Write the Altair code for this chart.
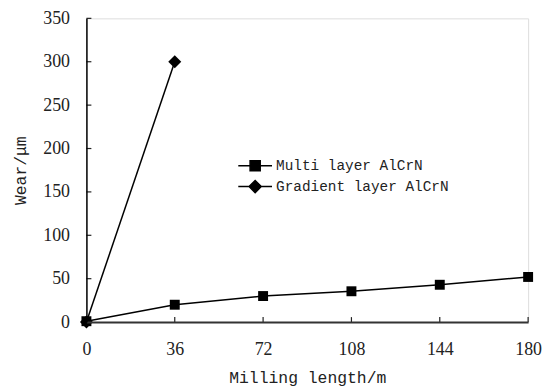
import altair as alt
import pandas as pd

series_names = ["Multi layer AlCrN", "Gradient layer AlCrN"]
multi_x = [0, 36, 72, 108, 144, 180]
multi_y = [1, 20, 30, 35.5, 43, 52]
grad_x = [0, 36]
grad_y = [0, 300]
x_ticks = [0, 36, 72, 108, 144, 180]
y_ticks = [0, 50, 100, 150, 200, 250, 300, 350]

df = pd.DataFrame(
    {"x": multi_x + grad_x,
     "y": multi_y + grad_y,
     "series": [series_names[0]] * len(multi_x) + [series_names[1]] * len(grad_x)}
)
xt_df = pd.DataFrame({"x": x_ticks})
yt_df = pd.DataFrame({"y": y_ticks})

LABEL_FONT = "Liberation Serif"
MONO = "Liberation Mono"
W, H = 445, 306

xs = alt.Scale(domain=[0, 180], nice=False, zero=False)
ys = alt.Scale(domain=[0, 350], nice=False)

x_axis = alt.Axis(values=x_ticks, title="Milling length/m", grid=False,
                  ticks=False, labelPadding=19, labelFlush=False,
                  labelFont=LABEL_FONT, labelFontSize=18, labelColor="#222",
                  titleFont=MONO, titleFontSize=16.5, titleFontWeight="normal",
                  titleColor="#222", titlePadding=11,
                  domainColor="#333", domainWidth=2, zindex=1)
y_axis = alt.Axis(values=y_ticks, title="Wear/μm", grid=False,
                  ticks=False, labelPadding=17, labelFlush=False,
                  labelFont=LABEL_FONT, labelFontSize=18, labelColor="#222",
                  titleFont=MONO, titleFontSize=16.5, titleFontWeight="normal",
                  titleColor="#222", titlePadding=14,
                  domainColor="#000", domainWidth=1.5, zindex=1)

base = alt.Chart(df).encode(
    x=alt.X("x:Q", scale=xs, axis=x_axis),
    y=alt.Y("y:Q", scale=ys, axis=y_axis),
)

lines = base.mark_line(color="black", strokeWidth=1.5).encode(detail="series:N")

squares = base.transform_filter(
    alt.datum.series == series_names[0]
).mark_point(shape="square", filled=True, color="black", size=100, opacity=1)

diamonds = base.transform_filter(
    alt.datum.series == series_names[1]
).mark_point(shape="diamond", filled=True, color="black", size=170, opacity=1)

# inward tick marks, placed through the scales
y_tick_marks = alt.Chart(yt_df).mark_rule(color="#222", strokeWidth=1.2).encode(
    y=alt.Y("y:Q", scale=ys, axis=y_axis),
    x=alt.value(0), x2=alt.value(5),
)
x_tick_marks = alt.Chart(xt_df).mark_rule(color="#222", strokeWidth=1.2).encode(
    x=alt.X("x:Q", scale=xs, axis=x_axis),
    y=alt.value(H), y2=alt.value(H - 5),
)

path_sq = "M-1,0L1,0M-0.3,-0.3L0.3,-0.3L0.3,0.3L-0.3,0.3Z"
path_dia = "M-1,0L1,0M0,-0.36L0.36,0L0,0.36L-0.36,0Z"

legend_layer = base.mark_point(
    filled=True, fill="black", stroke="black", strokeWidth=1.5, opacity=0
).encode(
    shape=alt.Shape(
        "series:N",
        scale=alt.Scale(domain=series_names, range=[path_sq, path_dia]),
        legend=alt.Legend(
            title=None, orient="none", legendX=152, legendY=138,
            symbolSize=1156, clipHeight=21, rowPadding=0,
            symbolOpacity=1, symbolStrokeWidth=1.5,
            labelFont=MONO, labelFontSize=14.5,
            labelColor="#222", labelOffset=3, labelLimit=400, padding=0,
        ),
    )
)

chart = alt.layer(lines, y_tick_marks, x_tick_marks, squares, diamonds, legend_layer).properties(
    width=W, height=H,
    autosize=alt.AutoSizeParams(type="none"),
    padding={"left": 79, "top": 9, "right": 16, "bottom": 66},
).configure_view(stroke="#888", strokeWidth=1.5).configure(background="white")

chart.save("out.html", embed_options={"renderer": "svg", "actions": False})
